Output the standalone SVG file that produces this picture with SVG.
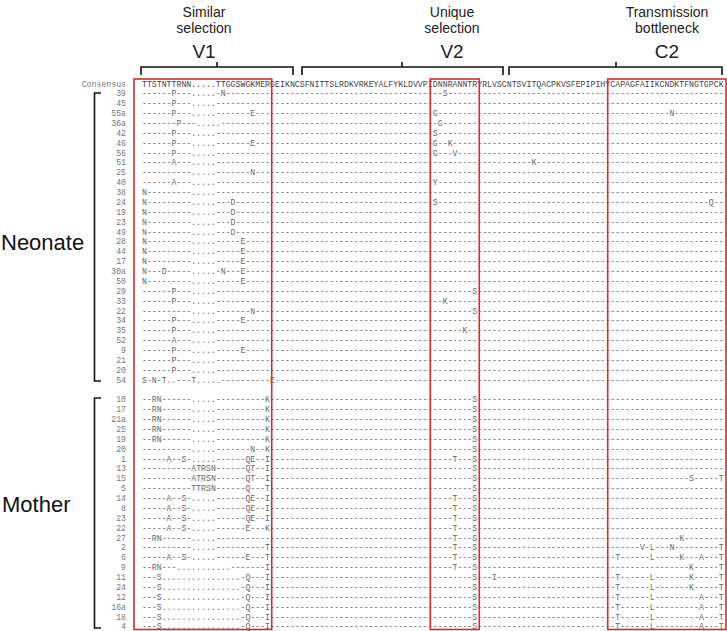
<svg xmlns="http://www.w3.org/2000/svg" xmlns:xlink="http://www.w3.org/1999/xlink" width="727" height="631" viewBox="0 0 727 631">
<style>
.seq{font-family:"Liberation Mono","Courier New",monospace;font-size:8.215px;fill:#666}
.cons{fill:#444}
.lab{font-family:"Liberation Mono","Courier New",monospace;font-size:8.215px;fill:#777;text-anchor:end}
.hd{font-family:"Liberation Sans",Arial,sans-serif;font-size:14px;fill:#222;text-anchor:middle}
.rg{font-family:"Liberation Sans",Arial,sans-serif;font-size:19px;fill:#222;text-anchor:middle}
.grp{font-family:"Liberation Sans",Arial,sans-serif;font-size:22px;fill:#111}
.box{fill:none;stroke:#d42b2b;stroke-width:1.6}
.br{fill:none;stroke:#111;stroke-width:1.6}
</style>
<defs>
<text id="v1d">----------.....------------</text>
<text id="m1d">--------------------------------</text>
<text id="v2d">----------</text>
<text id="v2s">--------S-</text>
<text id="v2ts">----T---S-</text>
<text id="m2d">--------------------------</text>
<text id="c2d">-----------------------</text>
</defs>
<g id="header">
<text class="hd" x="204" y="17">Similar</text>
<text class="hd" x="204" y="33">selection</text>
<text class="rg" x="204" y="58">V1</text>
<text class="hd" x="452" y="17">Unique</text>
<text class="hd" x="452" y="33">selection</text>
<text class="rg" x="452" y="58">V2</text>
<text class="hd" x="667" y="17">Transmission</text>
<text class="hd" x="667" y="33">bottleneck</text>
<text class="rg" x="667" y="58">C2</text>
<path class="br" d="M141,75V67H293V75M217,67V62"/>
<path class="br" d="M302,75V67H503V75M402,67V62"/>
<path class="br" d="M509,75V67H722V75M616,67V62"/>
</g>
<g id="groups">
<text class="grp" x="1" y="250">Neonate</text>
<path class="br" d="M101,93H94.5V381H101" stroke-width="2"/>
<text class="grp" x="2" y="512">Mother</text>
<path class="br" d="M101,398H94.5V628H101" stroke-width="2"/>
</g>
<g id="consensus" class="seq" transform="translate(0,86.53)"><text class="lab" x="126">Consensus</text><text class="cons" x="142">TTSTNTTRNN.....TTGGSWGKMERG</text><text class="cons" x="275.11">EIKNCSFNITTSLRDKVRKEYALFYKLDVVPI</text><text class="cons" x="432.87">DNNRANNTRY</text><text class="cons" x="482.17">RLVSCNTSVITQACPKVSFEPIPIHY</text><text class="cons" x="610.35">CAPAGFAIIKCNDKTFNGTGPCK</text></g>
<g id="neonate">
<g id="n39" class="seq" transform="translate(0,96.4)"><text class="lab" x="126">39</text><text x="142">------P---.....-N----------</text><use href="#m1d" x="275.11"/><text x="432.87">--S-------</text><use href="#m2d" x="482.17"/><use href="#c2d" x="610.35"/></g>
<g id="n45" class="seq" transform="translate(0,106.27)"><text class="lab" x="126">45</text><text x="142">------P---.....------------</text><use href="#m1d" x="275.11"/><use href="#v2d" x="432.87"/><use href="#m2d" x="482.17"/><use href="#c2d" x="610.35"/></g>
<g id="n55a" class="seq" transform="translate(0,116.14)"><text class="lab" x="126">55a</text><text x="142">------P---.....-------E----</text><use href="#m1d" x="275.11"/><text x="432.87">G---------</text><use href="#m2d" x="482.17"/><text x="610.35">------------N----------</text></g>
<g id="n36a" class="seq" transform="translate(0,126.01)"><text class="lab" x="126">36a</text><text x="142">-------P---.....-----------</text><use href="#m1d" x="275.11"/><text x="432.87">-G--------</text><use href="#m2d" x="482.17"/><use href="#c2d" x="610.35"/></g>
<g id="n42" class="seq" transform="translate(0,135.88)"><text class="lab" x="126">42</text><text x="142">------P---.....------------</text><use href="#m1d" x="275.11"/><text x="432.87">S---------</text><use href="#m2d" x="482.17"/><use href="#c2d" x="610.35"/></g>
<g id="n46" class="seq" transform="translate(0,145.75)"><text class="lab" x="126">46</text><text x="142">------P---.....-------E----</text><use href="#m1d" x="275.11"/><text x="432.87">G--K------</text><use href="#m2d" x="482.17"/><use href="#c2d" x="610.35"/></g>
<g id="n56" class="seq" transform="translate(0,155.62)"><text class="lab" x="126">56</text><text x="142">------P---.....------------</text><use href="#m1d" x="275.11"/><text x="432.87">G---V-----</text><use href="#m2d" x="482.17"/><use href="#c2d" x="610.35"/></g>
<g id="n51" class="seq" transform="translate(0,165.49)"><text class="lab" x="126">51</text><text x="142">------A---.....------------</text><use href="#m1d" x="275.11"/><use href="#v2d" x="432.87"/><text x="482.17">----------K---------------</text><use href="#c2d" x="610.35"/></g>
<g id="n25" class="seq" transform="translate(0,175.36)"><text class="lab" x="126">25</text><text x="142">----------.....-------N----</text><use href="#m1d" x="275.11"/><use href="#v2d" x="432.87"/><use href="#m2d" x="482.17"/><use href="#c2d" x="610.35"/></g>
<g id="n40" class="seq" transform="translate(0,185.23)"><text class="lab" x="126">40</text><text x="142">------A---.....------------</text><use href="#m1d" x="275.11"/><text x="432.87">Y---------</text><use href="#m2d" x="482.17"/><use href="#c2d" x="610.35"/></g>
<g id="n38" class="seq" transform="translate(0,195.1)"><text class="lab" x="126">38</text><text x="142">N---------.....------------</text><use href="#m1d" x="275.11"/><use href="#v2d" x="432.87"/><use href="#m2d" x="482.17"/><use href="#c2d" x="610.35"/></g>
<g id="n24" class="seq" transform="translate(0,204.97)"><text class="lab" x="126">24</text><text x="142">N---------.....---D--------</text><use href="#m1d" x="275.11"/><text x="432.87">S---------</text><use href="#m2d" x="482.17"/><text x="610.35">--------------------Q--</text></g>
<g id="n19" class="seq" transform="translate(0,214.84)"><text class="lab" x="126">19</text><text x="142">N---------.....---D--------</text><use href="#m1d" x="275.11"/><use href="#v2d" x="432.87"/><use href="#m2d" x="482.17"/><use href="#c2d" x="610.35"/></g>
<g id="n23" class="seq" transform="translate(0,224.71)"><text class="lab" x="126">23</text><text x="142">N---------.....---D--------</text><use href="#m1d" x="275.11"/><use href="#v2d" x="432.87"/><use href="#m2d" x="482.17"/><use href="#c2d" x="610.35"/></g>
<g id="n49" class="seq" transform="translate(0,234.58)"><text class="lab" x="126">49</text><text x="142">N---------.....---D--------</text><use href="#m1d" x="275.11"/><use href="#v2d" x="432.87"/><use href="#m2d" x="482.17"/><use href="#c2d" x="610.35"/></g>
<g id="n28" class="seq" transform="translate(0,244.45)"><text class="lab" x="126">28</text><text x="142">N---------.....-----E------</text><use href="#m1d" x="275.11"/><use href="#v2d" x="432.87"/><use href="#m2d" x="482.17"/><use href="#c2d" x="610.35"/></g>
<g id="n44" class="seq" transform="translate(0,254.32)"><text class="lab" x="126">44</text><text x="142">N---------.....-----E------</text><use href="#m1d" x="275.11"/><use href="#v2d" x="432.87"/><use href="#m2d" x="482.17"/><use href="#c2d" x="610.35"/></g>
<g id="n17" class="seq" transform="translate(0,264.19)"><text class="lab" x="126">17</text><text x="142">N---------.....-----E------</text><use href="#m1d" x="275.11"/><use href="#v2d" x="432.87"/><use href="#m2d" x="482.17"/><use href="#c2d" x="610.35"/></g>
<g id="n30a" class="seq" transform="translate(0,274.06)"><text class="lab" x="126">30a</text><text x="142">N---D-----.....-N---E------</text><use href="#m1d" x="275.11"/><use href="#v2d" x="432.87"/><use href="#m2d" x="482.17"/><use href="#c2d" x="610.35"/></g>
<g id="n50" class="seq" transform="translate(0,283.93)"><text class="lab" x="126">50</text><text x="142">N---------.....-----E------</text><use href="#m1d" x="275.11"/><use href="#v2d" x="432.87"/><use href="#m2d" x="482.17"/><use href="#c2d" x="610.35"/></g>
<g id="n29" class="seq" transform="translate(0,293.8)"><text class="lab" x="126">29</text><text x="142">------P---.....------------</text><use href="#m1d" x="275.11"/><use href="#v2s" x="432.87"/><use href="#m2d" x="482.17"/><use href="#c2d" x="610.35"/></g>
<g id="n33" class="seq" transform="translate(0,303.67)"><text class="lab" x="126">33</text><text x="142">------P---.....------------</text><use href="#m1d" x="275.11"/><text x="432.87">--K-------</text><use href="#m2d" x="482.17"/><use href="#c2d" x="610.35"/></g>
<g id="n22" class="seq" transform="translate(0,313.54)"><text class="lab" x="126">22</text><text x="142">----------.....-------N----</text><use href="#m1d" x="275.11"/><use href="#v2s" x="432.87"/><use href="#m2d" x="482.17"/><use href="#c2d" x="610.35"/></g>
<g id="n34" class="seq" transform="translate(0,323.41)"><text class="lab" x="126">34</text><text x="142">------P---.....-----E------</text><use href="#m1d" x="275.11"/><use href="#v2d" x="432.87"/><use href="#m2d" x="482.17"/><use href="#c2d" x="610.35"/></g>
<g id="n35" class="seq" transform="translate(0,333.28)"><text class="lab" x="126">35</text><text x="142">------P---.....------------</text><use href="#m1d" x="275.11"/><text x="432.87">------K---</text><use href="#m2d" x="482.17"/><use href="#c2d" x="610.35"/></g>
<g id="n52" class="seq" transform="translate(0,343.15)"><text class="lab" x="126">52</text><text x="142">------A---.....------------</text><use href="#m1d" x="275.11"/><use href="#v2d" x="432.87"/><use href="#m2d" x="482.17"/><use href="#c2d" x="610.35"/></g>
<g id="n9" class="seq" transform="translate(0,353.02)"><text class="lab" x="126">9</text><text x="142">------P---.....-----E------</text><use href="#m1d" x="275.11"/><use href="#v2d" x="432.87"/><use href="#m2d" x="482.17"/><use href="#c2d" x="610.35"/></g>
<g id="n21" class="seq" transform="translate(0,362.89)"><text class="lab" x="126">21</text><text x="142">------P---.....------------</text><use href="#m1d" x="275.11"/><use href="#v2d" x="432.87"/><use href="#m2d" x="482.17"/><use href="#c2d" x="610.35"/></g>
<g id="n20" class="seq" transform="translate(0,372.76)"><text class="lab" x="126">20</text><text x="142">------P---.....------------</text><use href="#m1d" x="275.11"/><use href="#v2d" x="432.87"/><use href="#m2d" x="482.17"/><use href="#c2d" x="610.35"/></g>
<g id="n54" class="seq" transform="translate(0,382.63)"><text class="lab" x="126">54</text><text x="142">S-N-T..---T.....----------E</text><use href="#m1d" x="275.11"/><use href="#v2d" x="432.87"/><use href="#m2d" x="482.17"/><use href="#c2d" x="610.35"/></g>
</g>
<g id="mother">
<g id="m10" class="seq" transform="translate(0,402.37)"><text class="lab" x="126">10</text><text x="142">--RN------.....----------K-</text><use href="#m1d" x="275.11"/><use href="#v2s" x="432.87"/><use href="#m2d" x="482.17"/><use href="#c2d" x="610.35"/></g>
<g id="m17" class="seq" transform="translate(0,412.24)"><text class="lab" x="126">17</text><text x="142">--RN------.....----------K-</text><use href="#m1d" x="275.11"/><use href="#v2s" x="432.87"/><use href="#m2d" x="482.17"/><use href="#c2d" x="610.35"/></g>
<g id="m21a" class="seq" transform="translate(0,422.11)"><text class="lab" x="126">21a</text><text x="142">--RN------.....----------K-</text><use href="#m1d" x="275.11"/><use href="#v2s" x="432.87"/><use href="#m2d" x="482.17"/><use href="#c2d" x="610.35"/></g>
<g id="m25" class="seq" transform="translate(0,431.98)"><text class="lab" x="126">25</text><text x="142">--RN------.....----------K-</text><use href="#m1d" x="275.11"/><use href="#v2s" x="432.87"/><use href="#m2d" x="482.17"/><use href="#c2d" x="610.35"/></g>
<g id="m19" class="seq" transform="translate(0,441.85)"><text class="lab" x="126">19</text><text x="142">--RN------.....----------K-</text><use href="#m1d" x="275.11"/><use href="#v2s" x="432.87"/><use href="#m2d" x="482.17"/><use href="#c2d" x="610.35"/></g>
<g id="m20" class="seq" transform="translate(0,451.72)"><text class="lab" x="126">20</text><text x="142">----------.....-------N--K-</text><use href="#m1d" x="275.11"/><use href="#v2s" x="432.87"/><use href="#m2d" x="482.17"/><use href="#c2d" x="610.35"/></g>
<g id="m1" class="seq" transform="translate(0,461.59)"><text class="lab" x="126">1</text><text x="142">-----A--S-.....------QE--I-</text><use href="#m1d" x="275.11"/><use href="#v2ts" x="432.87"/><use href="#m2d" x="482.17"/><use href="#c2d" x="610.35"/></g>
<g id="m13" class="seq" transform="translate(0,471.46)"><text class="lab" x="126">13</text><text x="142">----------ATRSN------QT--I-</text><use href="#m1d" x="275.11"/><use href="#v2s" x="432.87"/><use href="#m2d" x="482.17"/><use href="#c2d" x="610.35"/></g>
<g id="m15" class="seq" transform="translate(0,481.33)"><text class="lab" x="126">15</text><text x="142">----------ATRSN------QT--I-</text><use href="#m1d" x="275.11"/><use href="#v2s" x="432.87"/><use href="#m2d" x="482.17"/><text x="610.35">----------------S-----T</text></g>
<g id="m5" class="seq" transform="translate(0,491.2)"><text class="lab" x="126">5</text><text x="142">----------TTRSN------Q---T-</text><use href="#m1d" x="275.11"/><use href="#v2s" x="432.87"/><use href="#m2d" x="482.17"/><use href="#c2d" x="610.35"/></g>
<g id="m14" class="seq" transform="translate(0,501.07)"><text class="lab" x="126">14</text><text x="142">-----A--S-.....------QE--I-</text><use href="#m1d" x="275.11"/><use href="#v2ts" x="432.87"/><use href="#m2d" x="482.17"/><use href="#c2d" x="610.35"/></g>
<g id="m8" class="seq" transform="translate(0,510.94)"><text class="lab" x="126">8</text><text x="142">-----A--S-.....------QE--I-</text><use href="#m1d" x="275.11"/><use href="#v2ts" x="432.87"/><use href="#m2d" x="482.17"/><use href="#c2d" x="610.35"/></g>
<g id="m23" class="seq" transform="translate(0,520.81)"><text class="lab" x="126">23</text><text x="142">-----A--S-.....------QE--I-</text><use href="#m1d" x="275.11"/><use href="#v2ts" x="432.87"/><use href="#m2d" x="482.17"/><use href="#c2d" x="610.35"/></g>
<g id="m22" class="seq" transform="translate(0,530.68)"><text class="lab" x="126">22</text><text x="142">-----A--S-.....------E---K-</text><use href="#m1d" x="275.11"/><use href="#v2ts" x="432.87"/><use href="#m2d" x="482.17"/><use href="#c2d" x="610.35"/></g>
<g id="m27" class="seq" transform="translate(0,540.55)"><text class="lab" x="126">27</text><text x="142">--RN------.....------------</text><use href="#m1d" x="275.11"/><use href="#v2ts" x="432.87"/><use href="#m2d" x="482.17"/><text x="610.35">--------------K--------</text></g>
<g id="m2" class="seq" transform="translate(0,550.42)"><text class="lab" x="126">2</text><text x="142">----------.....----------T-</text><use href="#m1d" x="275.11"/><use href="#v2ts" x="432.87"/><use href="#m2d" x="482.17"/><text x="610.35">------V-L---N---------T</text></g>
<g id="m6" class="seq" transform="translate(0,560.29)"><text class="lab" x="126">6</text><text x="142">-----A--S-.....------E---T-</text><use href="#m1d" x="275.11"/><use href="#v2ts" x="432.87"/><use href="#m2d" x="482.17"/><text x="610.35">-T------L-----K---A---T</text></g>
<g id="m9" class="seq" transform="translate(0,570.16)"><text class="lab" x="126">9</text><text x="142">--RN---...........-------I-</text><use href="#m1d" x="275.11"/><use href="#v2ts" x="432.87"/><use href="#m2d" x="482.17"/><text x="610.35">----------------K-----T</text></g>
<g id="m11" class="seq" transform="translate(0,580.03)"><text class="lab" x="126">11</text><text x="142">---S................-Q---I-</text><use href="#m1d" x="275.11"/><use href="#v2s" x="432.87"/><text x="482.17">--I-----------------------</text><text x="610.35">-T------L-------K-----T</text></g>
<g id="m24" class="seq" transform="translate(0,589.9)"><text class="lab" x="126">24</text><text x="142">---S................-Q---I-</text><use href="#m1d" x="275.11"/><use href="#v2s" x="432.87"/><use href="#m2d" x="482.17"/><text x="610.35">-T------L-------K-----T</text></g>
<g id="m12" class="seq" transform="translate(0,599.77)"><text class="lab" x="126">12</text><text x="142">---S................-Q---I-</text><use href="#m1d" x="275.11"/><use href="#v2s" x="432.87"/><use href="#m2d" x="482.17"/><text x="610.35">-T------L---------A---T</text></g>
<g id="m16a" class="seq" transform="translate(0,609.64)"><text class="lab" x="126">16a</text><text x="142">---S................-Q---I-</text><use href="#m1d" x="275.11"/><use href="#v2s" x="432.87"/><use href="#m2d" x="482.17"/><text x="610.35">-T------L---------A---T</text></g>
<g id="m18" class="seq" transform="translate(0,619.51)"><text class="lab" x="126">18</text><text x="142">---S................-Q---I-</text><use href="#m1d" x="275.11"/><use href="#v2s" x="432.87"/><use href="#m2d" x="482.17"/><text x="610.35">-T------L---------A---T</text></g>
<g id="m4" class="seq" transform="translate(0,629.38)"><text class="lab" x="126">4</text><text x="142">---S................-Q---I-</text><use href="#m1d" x="275.11"/><use href="#v2s" x="432.87"/><use href="#m2d" x="482.17"/><text x="610.35">-T------L---------A---T</text></g>
</g>
<g id="boxes">
<rect class="box" x="134" y="79" width="137.7" height="550.5"/>
<rect class="box" x="430.3" y="79" width="49" height="550.5"/>
<rect class="box" x="607.7" y="79" width="118.3" height="550.5"/>
</g>
</svg>
